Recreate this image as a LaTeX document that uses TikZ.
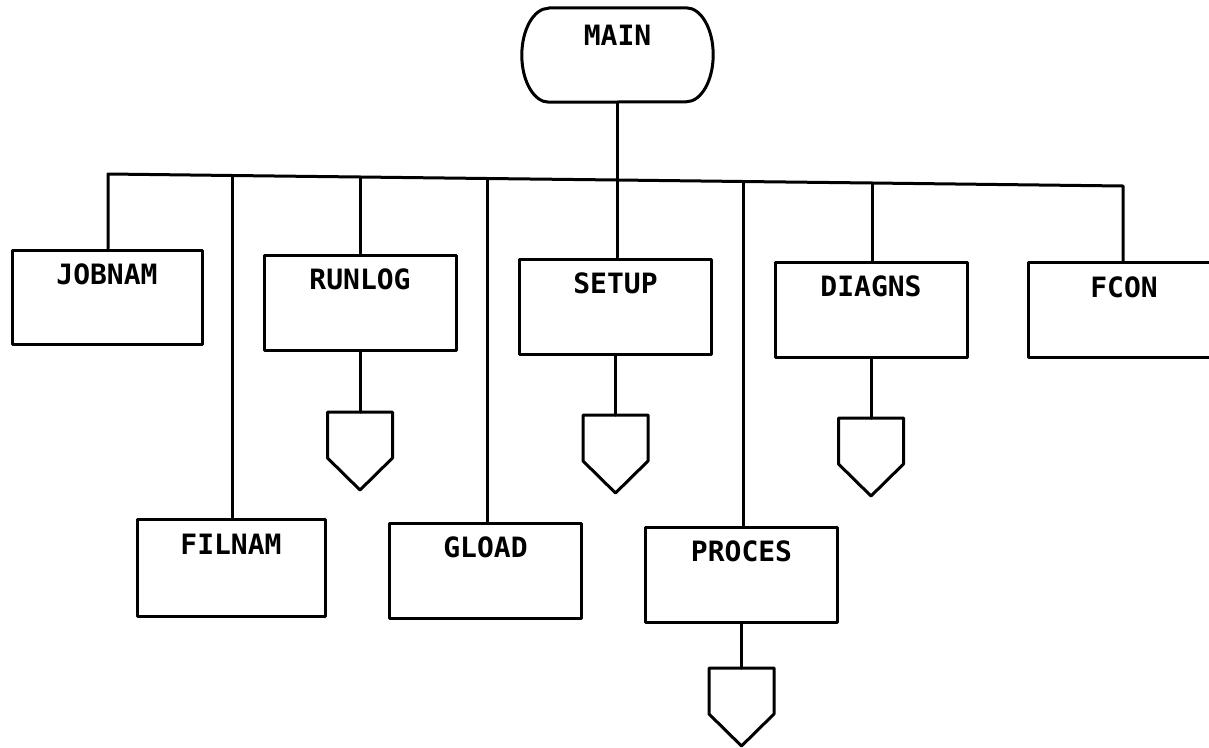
\documentclass[tikz,border=0pt]{standalone}
\usepackage{fontspec}
\newfontfamily\plotfont{DejaVu Sans Mono}
\begin{document}
\begin{tikzpicture}[x=1pt,y=-1pt,
  ln/.style={line width=3pt, line join=round, line cap=round},
  lbl/.style={anchor=center, yshift=-26pt, inner sep=0pt, font=\plotfont\bfseries\fontsize{28}{28}\selectfont},
  box/.style={draw, ln, minimum width=192pt, minimum height=95pt, inner sep=0pt},
  offpage/.pic={
    \coordinate (-top) at (0,0);
    \draw[ln] (-32.5,0) -- (32.5,0) -- (32.5,46) -- (0,78) -- (-32.5,46) -- cycle;
  }]
\useasboundingbox (0,0) rectangle (1209,747);
\clip (0,0) rectangle (1209,747);

% MAIN terminal
\node[minimum width=191pt, minimum height=94pt, inner sep=0pt,
      label={[lbl,yshift=-1pt]north:MAIN}] (main) at (617.5,55) {};
\draw[ln] ([xshift=27pt]main.north west) -- ([xshift=-27pt]main.north east)
  arc[start angle=90, end angle=-90, x radius=27pt, y radius=47pt]
  -- ([xshift=27pt]main.south west)
  arc[start angle=270, end angle=90, x radius=27pt, y radius=47pt] -- cycle;

% boxes
\node[box, minimum width=190pt, minimum height=94pt, label={[lbl]north:JOBNAM}] (jobnam) at (107,297) {};
\node[box, label={[lbl]north:RUNLOG}] (runlog) at (360,302.5) {};
\node[box, label={[lbl]north:SETUP}]  (setup)  at (615.5,306.5) {};
\node[box, label={[lbl]north:DIAGNS}] (diagns) at (871,309.5) {};
\node[box, label={[lbl]north:FCON}]   (fcon)   at (1124,310) {};
\node[box, minimum width=188pt, minimum height=97pt, label={[lbl]north:FILNAM}] (filnam) at (231,568) {};
\node[box, label={[lbl]north:GLOAD}]  (gload)  at (485.5,570.5) {};
\node[box, label={[lbl]north:PROCES}] (proces) at (741.5,574.5) {};

% off-page connectors
\pic (offA) at (360,412) {offpage};
\pic (offB) at (615.5,415) {offpage};
\pic (offC) at (871,418) {offpage};
\pic (offD) at (741.5,668) {offpage};

% bus junctions
\coordinate (j1) at (108,174);
\coordinate (j2) at (232,175.5);
\coordinate (j3) at (360,177);
\coordinate (j4) at (487,178.5);
\coordinate (j5) at (617.5,180);
\coordinate (j6) at (743,181.5);
\coordinate (j7) at (872,183);
\coordinate (j8) at (1123,186);

% connectors
\draw[ln] (j1 |- jobnam.north) -- (j1) -- (j2) -- (j3) -- (j4) -- (j5) -- (j6) -- (j7) -- (j8) -- (j8 |- fcon.north);
\draw[ln] (main.south) -- (j5);
\draw[ln] (j2) -- (j2 |- filnam.north);
\draw[ln] (j3) -- (j3 |- runlog.north);
\draw[ln] (j4) -- (j4 |- gload.north);
\draw[ln] (j5) -- (j5 |- setup.north);
\draw[ln] (j6) -- (j6 |- proces.north);
\draw[ln] (j7) -- (j7 |- diagns.north);

\draw[ln] (runlog.south) -- (offA-top);
\draw[ln] (setup.south) -- (offB-top);
\draw[ln] (diagns.south) -- (offC-top);
\draw[ln] (proces.south) -- (offD-top);
\end{tikzpicture}
\end{document}
